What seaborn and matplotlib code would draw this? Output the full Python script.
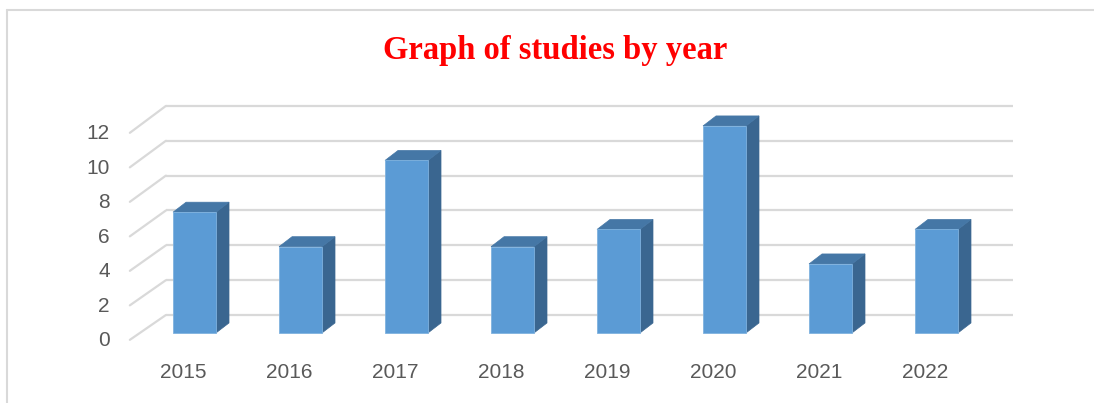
import matplotlib
matplotlib.use("Agg")
import matplotlib.pyplot as plt
from matplotlib.patches import Polygon
from matplotlib.lines import Line2D
import seaborn as sns
import pandas as pd

years = ["2015", "2016", "2017", "2018", "2019", "2020", "2021", "2022"]
studies = [7, 5, 10, 5, 6, 12, 4, 6]
yticks = [0, 2, 4, 6, 8, 10, 12]
title = "Graph of studies by year"

sns.set_theme(style="white")
plt.rcParams["font.family"] = ["Liberation Sans", "DejaVu Sans"]

W, H = 1094, 403
fig = plt.figure(figsize=(W / 100, H / 100), dpi=100)
ax = fig.add_axes([0, 0, 1, 1])

df = pd.DataFrame({"year": years, "studies": studies})

FRONT = "#5B9BD5"
SIDE = "#3A6690"
TOP = "#4577A6"
GRID = "#D9D9D9"
TXT = "#595959"

# 3D geometry (in data units)
bar_w = 0.405
depth_dx, depth_dy = 0.123, 0.58
wall_x0, wall_x1 = -0.27, 7.72
floor_x0 = -0.61

def back_y(v):
    return v * 1.01 + 1.04

# back wall gridlines and side diagonals
for v in yticks:
    ax.plot([wall_x0, wall_x1], [back_y(v), back_y(v)], color=GRID, lw=1.6, zorder=0,
            solid_capstyle="butt")
    ax.plot([floor_x0, wall_x0], [v - 0.4, back_y(v)], color=GRID, lw=1.6, zorder=0)
    ax.text(-0.80, v - 0.45, str(v), ha="right", va="center", fontsize=15, color=TXT)

sns.barplot(data=df, x="year", y="studies", color=FRONT, width=bar_w, ax=ax,
            saturation=1, edgecolor="#7FB2DF", linewidth=0.6, zorder=3)

for p in ax.patches:
    x0 = p.get_x()
    x1 = x0 + p.get_width()
    h = p.get_height()
    side = Polygon([(x1, 0), (x1 + depth_dx, depth_dy), (x1 + depth_dx, h + depth_dy), (x1, h)],
                   closed=True, facecolor=SIDE, edgecolor=SIDE, lw=0.5, zorder=2)
    top = Polygon([(x0, h), (x0 + depth_dx, h + depth_dy), (x1 + depth_dx, h + depth_dy), (x1, h)],
                  closed=True, facecolor=TOP, edgecolor=TOP, lw=0.5, zorder=2)
    ax.add_patch(side)
    ax.add_patch(top)

for i, y in enumerate(years):
    ax.text(i - 0.104, -2.3, y, ha="center", va="center", fontsize=15, color=TXT)

ax.set_xlim(-1.835, 8.486)
ax.set_ylim(-4.06, 19.30)
ax.axis("off")

fig.text(555 / W, 1 - 50 / H, title, ha="center", va="center", fontsize=23.5,
         fontweight="bold", color="#FF0000", family=["Liberation Serif", "DejaVu Serif"])

# chart frame (top and left edges visible)
fig.add_artist(Line2D([7 / W, 1], [1 - 10 / H, 1 - 10 / H], color=GRID, lw=1.5))
fig.add_artist(Line2D([7 / W, 7 / W], [1 - 10 / H, 0], color=GRID, lw=1.5))

fig.savefig("out.png", dpi=100)
